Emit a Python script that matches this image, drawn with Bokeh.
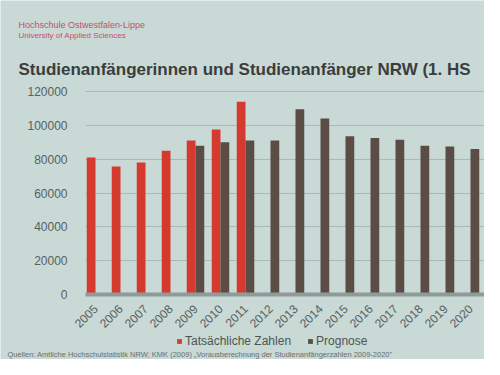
from bokeh.plotting import figure
from bokeh.models import (ColumnDataSource, Legend, LegendItem, FixedTicker, NumeralTickFormatter,
                          Label, Range1d)
from bokeh.transform import dodge
from bokeh.embed import file_html
from bokeh.resources import INLINE
import math

years = list(range(2005, 2021))
tatsaechlich = [81000, 75700, 78000, 85000, 91000, 97500, 114000, 0, 0, 0, 0, 0, 0, 0, 0, 0]
prognose = [0, 0, 0, 0, 88000, 90000, 91000, 91000, 109500, 104000, 93500, 92500, 91500, 88000, 87500, 86000]
y_ticks = [0, 20000, 40000, 60000, 80000, 100000, 120000]
series_names = ["Tatsächliche Zahlen", "Prognose"]

title_text = "Studienanfängerinnen und Studienanfänger NRW (1. HS"
logo_1 = "Hochschule Ostwestfalen-Lippe"
logo_2 = "University of Applied Sciences"
source_text = "Quellen: Amtliche Hochschulstatistik NRW; KMK (2009) „Vorausberechnung der Studienanfängerzahlen 2009-2020\""

BG = "#c8d9d6"
RED = "#d6392e"
GRAY = "#5b4c46"
FONT = "Liberation Sans"
W, H = 484, 359

# frame spans the whole canvas; the chart area is placed through the ranges
X0, X1 = 2001.2, 2020.56
Y0, Y1 = -38400, 173800
AXIS_X = 2004.6

src = ColumnDataSource(dict(year=years, t=tatsaechlich, p=prognose))
p = figure(width=W, height=H, x_range=Range1d(X0, X1), y_range=Range1d(Y0, Y1),
           output_backend="svg", toolbar_location=None, min_border=0,
           background_fill_color=BG, border_fill_color=BG, outline_line_color=None)

r1 = p.vbar(x=dodge("year", -0.175), top="t", width=0.35, source=src,
            fill_color=RED, line_color=None)
r2 = p.vbar(x=dodge("year", 0.175), top="p", width=0.35, source=src,
            fill_color=GRAY, line_color=None)

p.yaxis.fixed_location = AXIS_X
p.yaxis.ticker = FixedTicker(ticks=y_ticks)
p.yaxis.formatter = NumeralTickFormatter(format="0")
p.yaxis.axis_line_color = None
p.yaxis.major_tick_line_color = None
p.yaxis.minor_tick_line_color = None
p.yaxis.major_label_text_font = FONT
p.yaxis.major_label_text_font_size = "12px"
p.yaxis.major_label_text_color = "#5a5f5e"
p.yaxis.major_label_standoff = 12

p.xaxis.fixed_location = 0
p.xaxis.bounds = (AXIS_X, X1)
p.xaxis.ticker = FixedTicker(ticks=years)
p.xaxis.axis_line_color = "#8f9b98"
p.xaxis.axis_line_width = 4
p.xaxis.major_tick_line_color = None
p.xaxis.minor_tick_line_color = None
p.xaxis.major_label_orientation = math.pi / 4
p.xaxis.major_label_text_font = FONT
p.xaxis.major_label_text_font_size = "12px"
p.xaxis.major_label_text_color = "#5a5f5e"
p.xaxis.major_label_standoff = 6

p.xgrid.visible = False
p.ygrid.ticker = FixedTicker(ticks=y_ticks[1:])
p.ygrid.cross_bounds = (AXIS_X, X1)
p.ygrid.grid_line_color = "#a9b9b6"
p.ygrid.grid_line_width = 1

p.add_layout(Label(x=18, y=335, x_units="screen", y_units="screen", text=logo_1,
                   text_baseline="middle", text_font=FONT, text_font_size="9px",
                   text_color="#c4506b"))
p.add_layout(Label(x=18, y=324, x_units="screen", y_units="screen", text=logo_2,
                   text_baseline="middle", text_font=FONT, text_font_size="8px",
                   text_color="#c4506b"))
p.add_layout(Label(x=18, y=290, x_units="screen", y_units="screen", text=title_text,
                   text_baseline="middle", text_font=FONT, text_font_style="bold",
                   text_font_size="17px", text_color="#3b3d3d"))
p.add_layout(Label(x=7, y=5, x_units="screen", y_units="screen", text=source_text,
                   text_baseline="middle", text_font=FONT, text_font_size="7.5px",
                   text_color="#6a6f6e"))

legend = Legend(items=[LegendItem(label=series_names[0], renderers=[r1]),
                       LegendItem(label=series_names[1], renderers=[r2])],
                orientation="horizontal", location=(176, 11),
                background_fill_alpha=0, border_line_color=None,
                glyph_width=6, glyph_height=6, label_height=14, spacing=16,
                padding=0, margin=0,
                label_text_font=FONT, label_text_font_size="12px",
                label_text_color="#4f5453", label_standoff=3)
p.add_layout(legend)

open("out.html", "w").write(file_html(p, INLINE))
